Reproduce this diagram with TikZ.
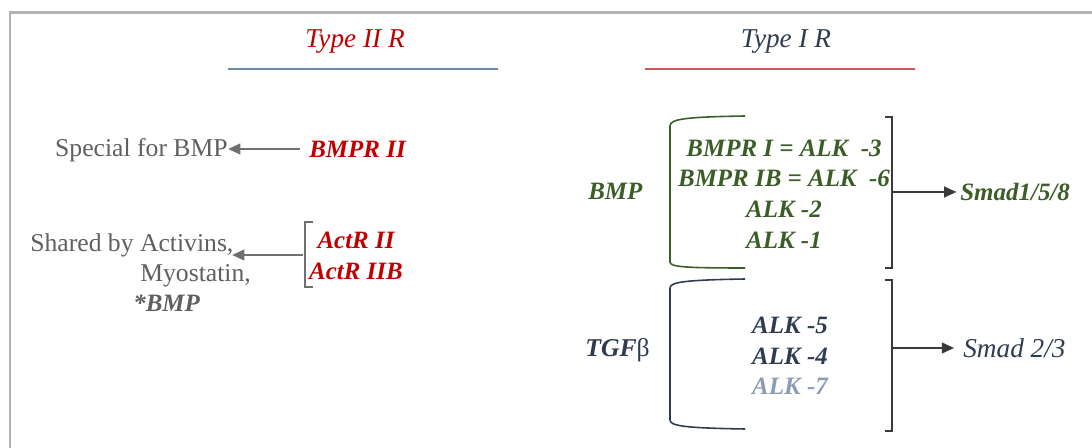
\documentclass[tikz,border=0pt]{standalone}
\usepackage{fontspec}
\setmainfont{Liberation Serif}
\usetikzlibrary{arrows.meta}
\definecolor{frameGray}{HTML}{B3B3B3}
\definecolor{typeRed}{HTML}{C00000}
\definecolor{lineBlue}{HTML}{6B8AA3}
\definecolor{lineRed}{HTML}{D0575A}
\definecolor{textGray}{HTML}{5F5F5F}
\definecolor{arrowGray}{HTML}{707070}
\definecolor{bmpGreen}{HTML}{3B5D27}
\definecolor{slateDark}{HTML}{2F3B4F}
\definecolor{slateLight}{HTML}{8A9BB5}
\definecolor{arrowDark}{HTML}{3A3A3A}

\begin{document}
\begin{tikzpicture}[x=0.02cm, y=-0.02cm,
  txt/.style={inner sep=0pt, font=\rmfamily\fontsize{14.6}{17.4}\selectfont},
  rec/.style={txt, font=\rmfamily\fontsize{14.2}{17.4}\selectfont\bfseries\itshape},
  head/.style={inner sep=0pt, font=\rmfamily\fontsize{15.5}{18}\selectfont\itshape},
  grayarr/.style={arrowGray, line width=1.4pt, -{Triangle[length=7pt,width=6pt]}},
  darkarr/.style={arrowDark, line width=1.2pt, -{Triangle[length=7pt,width=6pt]}},
  brack/.style={line width=0.9pt}]
 	\useasboundingbox (0,0) rectangle (1092,448);
 	% frame
 	\draw[frameGray, line width=1.7pt] (10,448) -- (10,13) -- (1092,13);
 	% headers
 	\node[head, typeRed] (t2) at (355,42) {Type II R};
 	\node[head, slateDark] (t1) at (786,42) {Type I R};
 	\draw[lineBlue, line width=1.3pt] (228,69) -- (498,69);
 	\draw[lineRed, line width=1.3pt] (645,69) -- (915,69);
	% type II receptors
 	\node[rec, typeRed, anchor=west] (bmpr2) at (309,149) {BMPR II};
 	\node[txt, textGray, anchor=east] (special) at (228,150) {Special for BMP};
 	\draw[grayarr] ([xshift=-5pt]bmpr2.west) -- (bmpr2.west -| special.east);
 	\node[rec, typeRed, align=center] (actr) at (356,256) {ActR II\\ActR IIB};
 	\draw[arrowGray, brack] (313,222) -- (305,222) -- (305,287) -- (313,287);
 	\coordinate (actbr) at (303,255);
 	\node[txt, textGray, anchor=west] (shared) at (30,245) {Shared by Activins,};
 	\node[txt, textGray, anchor=west] (myo) at (140,276) {Myostatin,};
 	\node[rec, textGray, anchor=west] (starbmp) at (133,303) {*BMP};
 	\draw[grayarr, shorten >=-1pt] (actbr) -- (actbr -| shared.east);
	% type I receptors, BMP
 	\node[rec, bmpGreen, anchor=west] (bmp) at (588,191) {BMP};
 	\node[rec, bmpGreen, align=center] (bmpset) at (784,194)
 	  {BMPR I = ALK\ \ -3\\BMPR IB = ALK\ \ -6\\ALK -2\\ALK -1};
 	\draw[bmpGreen, brack] (745,116) .. controls (685,117) and (670,119) .. (670,126)
 	  -- (670,262) .. controls (670,267) and (685,268) .. (745,268);
 	\draw[arrowDark, brack] (885,117) -- (892,117) -- (892,268) -- (885,268);
 	\coordinate (bmpbr) at (892,192);
 	\node[rec, bmpGreen, anchor=west] (smad158) at (960,192) {Smad1/5/8};
 	\draw[darkarr, shorten >=2pt] (bmpbr) -- (smad158.west);
	% type I receptors, TGF beta
 	\node[txt, slateDark, anchor=west] (tgf) at (585,350) {\textbf{\textit{TGF}}β};
 	\node[rec, slateDark, align=center] (tgfset) at (790,356)
 	  {ALK -5\\ALK -4\\\textcolor{slateLight}{ALK -7}};
 	\draw[slateDark, brack] (745,279) .. controls (685,280) and (670,282) .. (670,288)
 	  -- (670,420) .. controls (670,426) and (685,428) .. (745,429);
 	\draw[arrowDark, brack] (885,280) -- (892,280) -- (892,431) -- (885,431);
 	\coordinate (tgfbr) at (892,348);
 	\node[txt, slateDark, font=\rmfamily\fontsize{15.5}{17.4}\selectfont\itshape, anchor=west] (smad23) at (963,348) {Smad 2/3};
 	\draw[darkarr, shorten >=5pt] (tgfbr) -- (smad23.west);
\end{tikzpicture}
\end{document}
